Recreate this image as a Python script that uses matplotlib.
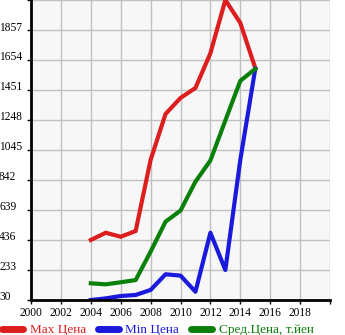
import numpy as np
import matplotlib
matplotlib.use("Agg")
import matplotlib.pyplot as plt
import matplotlib.transforms as mtransforms

years = [2004, 2005, 2006, 2007, 2008, 2009, 2010, 2011, 2012, 2013, 2014, 2015]
max_price = [436, 485, 458, 497, 978, 1289, 1397, 1465, 1700, 2060, 1905, 1600]
min_price = [30, 41, 57, 64, 98, 204, 195, 86, 485, 233, 978, 1594]
avg_price = [143, 136, 150, 165, 357, 560, 635, 831, 974, 1245, 1513, 1594]

yticks = [30, 233, 436, 639, 842, 1045, 1248, 1451, 1654, 1857]
xticks = list(range(2000, 2020, 2))

plt.rcParams['font.family'] = ['Liberation Serif', 'DejaVu Serif']

fig = plt.figure(figsize=(3.45, 3.35), dpi=100)
ax = fig.add_axes([31/345, 35/335, 299/345, 300/335])
ax.set_facecolor('#f7f7f7')

ax.plot(years, max_price, color='#dd1e1e', lw=3, label='Max Цена', solid_joinstyle='miter')
ax.plot(years, min_price, color='#1a1add', lw=3, label='Min Цена')
ax.plot(years, avg_price, color='#0a800a', lw=3, label='Сред.Цена, т.йен')

ax.set_xlim(2000, 2020)
ax.set_ylim(30, 2060)
ax.set_xticks(xticks + [2020])
ax.set_xticklabels([str(x) for x in xticks] + [''])
ax.set_yticks(yticks + [2060])
ax.set_yticklabels([str(y) for y in yticks] + [''])
ax.grid(True, color='#c0c0c0', lw=1)
ax.set_axisbelow(True)

for s in ['top', 'right']:
    ax.spines[s].set_visible(False)
for s in ['left', 'bottom']:
    ax.spines[s].set_linewidth(2)

ax.tick_params(axis='y', length=3, width=1, pad=20, labelsize=8.3)
ax.tick_params(axis='x', length=3, width=1, pad=2, labelsize=8.3)
off = mtransforms.ScaledTranslation(0, 4/100, fig.dpi_scale_trans)
for lab in ax.get_yticklabels():
    lab.set_horizontalalignment('left')
    lab.set_transform(lab.get_transform() + off)

leg = fig.legend(loc='lower left', bbox_to_anchor=(-0.01, -0.02), ncol=3,
                 frameon=False, fontsize=9.5, handlelength=1.6, handletextpad=0.5,
                 columnspacing=0.9, labelcolor='linecolor', borderaxespad=0)
for h in leg.get_lines():
    h.set_linewidth(5)
    h.set_solid_capstyle('round')

fig.savefig('out.png', dpi=100)
